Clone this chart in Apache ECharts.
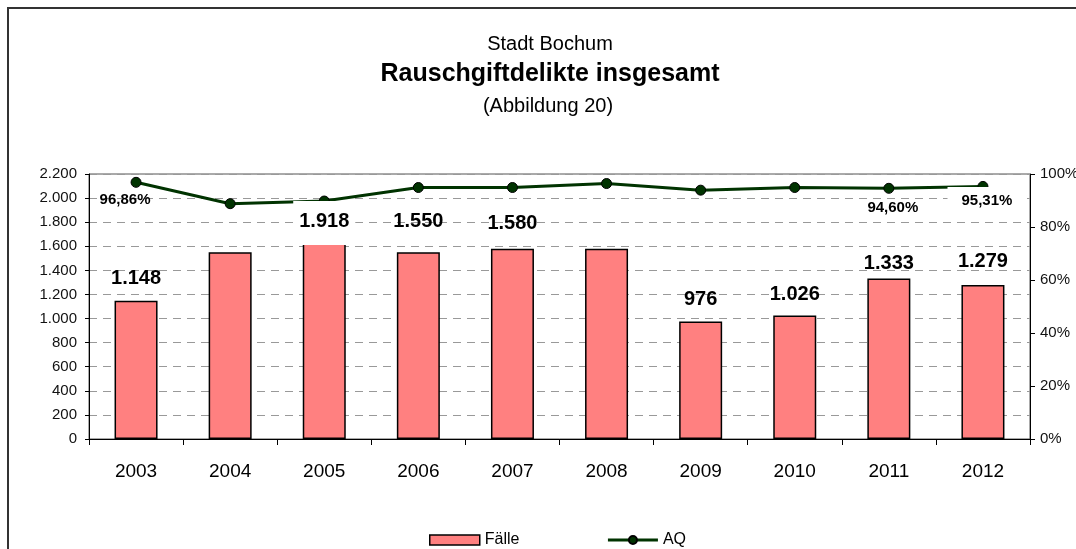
<!DOCTYPE html>
<html>
<head>
<meta charset="utf-8">
<script src="https://cdn.jsdelivr.net/npm/echarts@6/dist/echarts.min.js"></script>
<style>
html,body{margin:0;padding:0;background:#fff;}
#c{width:1076px;height:549px;}
</style>
</head>
<body>
<div id="c"></div>
<script>
const years = ['2003','2004','2005','2006','2007','2008','2009','2010','2011','2012'];
const faelle = [1148, 1550, 1918, 1550, 1580, 1580, 976, 1026, 1333, 1279];
const faelleLabels = ['1.148', null, '1.918', '1.550', '1.580', null, '976', '1.026', '1.333', '1.279'];
const aq = [96.86, 88.8, 89.8, 94.9, 94.9, 96.4, 93.9, 94.9, 94.60, 95.31];
const aqLabels = ['96,86%', null, null, null, null, null, null, null, '94,60%', '95,31%'];
const leftTicks = [0, 200, 400, 600, 800, 1000, 1200, 1400, 1600, 1800, 2000, 2200];
const rightTicks = [0, 20, 40, 60, 80, 100];

const FONT = '"Liberation Sans", Arial, sans-serif';

function deNum(v){
  return String(v).replace(/\B(?=(\d{3})+(?!\d))/g, '.');
}

// layout-only tweaks for label placement
const barLabelDist = {0: 12, 3: 21, 4: 15, 6: 12, 7: 11, 8: 5, 9: 13};
const aqLabelStyle = {
  0: {distance: 5, offset: [-11, 0]},
  8: {distance: 7, offset: [4, 0]},
  9: {distance: -5, offset: [4, 0], backgroundColor: '#fff', padding: [6, 14, 4, 14]}
};

const barData = faelle.map((v, i) => {
  const lbl = faelleLabels[i];
  if (lbl === null) return {value: v, label: {show: false}};
  if (i === 2) {
    return {value: v, label: {show: true, formatter: lbl, position: ['50%', -7], align: 'center', verticalAlign: 'top',
      backgroundColor: '#fff', padding: [11, 6, 13, 6]}};
  }
  return {value: v, label: {show: true, formatter: lbl, position: 'top', distance: barLabelDist[i] ?? 10}};
});

const lineData = aq.map((v, i) => {
  const lbl = aqLabels[i];
  if (lbl === null) return {value: v, label: {show: false}};
  const s = aqLabelStyle[i] || {};
  return {value: v, label: Object.assign({show: true, formatter: lbl, position: 'bottom'}, s)};
});

const chart = echarts.init(document.getElementById('c'), null, {renderer: 'canvas'});
chart.setOption({
  animation: false,
  backgroundColor: '#fff',
  textStyle: {fontFamily: FONT},
  title: [
    {text: 'Stadt Bochum', left: 545, textAlign: 'center', top: 29, textStyle: {fontFamily: FONT, fontSize: 20, fontWeight: 'normal', color: '#000'}},
    {text: 'Rauschgiftdelikte insgesamt', left: 545, textAlign: 'center', top: 57, textStyle: {fontFamily: FONT, fontSize: 25, fontWeight: 'bold', color: '#000'}},
    {text: '(Abbildung 20)', left: 543, textAlign: 'center', top: 91, textStyle: {fontFamily: FONT, fontSize: 20, fontWeight: 'normal', color: '#000'}}
  ],
  graphic: [
    {type: 'rect', shape: {x: 8, y: 8, width: 1200, height: 700}, style: {fill: 'none', stroke: '#333', lineWidth: 2}, z: -1, silent: true}
  ],
  grid: {left: 89, right: 46, top: 174, bottom: 110, containLabel: false, outerBoundsMode: 'none',
    show: true, borderColor: '#555', borderWidth: 1, backgroundColor: 'transparent'},
  legend: {
    left: 424, top: 527,
    itemWidth: 50, itemHeight: 10, itemGap: 87,
    textStyle: {fontFamily: FONT, fontSize: 16, color: '#000'},
    data: [
      {name: 'Fälle', icon: 'rect', itemStyle: {color: '#FF8080', borderColor: '#000', borderWidth: 1.5}},
      {name: 'AQ', lineStyle: {color: '#003300', width: 3}}
    ]
  },
  xAxis: {
    type: 'category',
    data: years,
    boundaryGap: true,
    axisLine: {lineStyle: {color: '#000', width: 1}},
    axisTick: {show: true, inside: false, length: 6, alignWithLabel: false, lineStyle: {color: '#000'}},
    axisLabel: {fontFamily: FONT, fontSize: 19, color: '#000', margin: 23},
    splitLine: {show: false}
  },
  yAxis: [
    {
      type: 'value', min: 0, max: 2200, interval: 200, position: 'left',
      axisLine: {show: true, lineStyle: {color: '#000'}},
      axisTick: {show: true, length: 4, lineStyle: {color: '#000'}},
      axisLabel: {fontFamily: FONT, fontSize: 15, color: '#111', margin: 12,
        formatter: v => leftTicks.includes(v) ? deNum(v) : ''},
      splitLine: {show: true, lineStyle: {color: '#999', type: [8, 6], width: 1}}
    },
    {
      type: 'value', min: 0, max: 100, interval: 20, position: 'right',
      axisLine: {show: true, lineStyle: {color: '#000'}},
      axisTick: {show: true, length: 5, lineStyle: {color: '#000'}},
      axisLabel: {fontFamily: FONT, fontSize: 15, color: '#111', margin: 10,
        formatter: v => rightTicks.includes(v) ? v + '%' : ''},
      splitLine: {show: false}
    }
  ],
  series: [
    {
      name: 'Fälle', type: 'bar', yAxisIndex: 0, z: 4,
      barWidth: 43,
      itemStyle: {color: '#FF8080', borderColor: '#000', borderWidth: 1.5},
      label: {fontFamily: FONT, fontSize: 20, fontWeight: 'bold', color: '#000'},
      data: barData
    },
    {
      name: 'AQ', type: 'line', yAxisIndex: 1, z: 3,
      symbol: 'circle', symbolSize: 10,
      lineStyle: {color: '#003300', width: 3},
      itemStyle: {color: '#003300', borderColor: '#000', borderWidth: 1},
      label: {fontFamily: FONT, fontSize: 15, fontWeight: 'bold', color: '#000'},
      data: lineData
    }
  ]
});
</script>
</body>
</html>
